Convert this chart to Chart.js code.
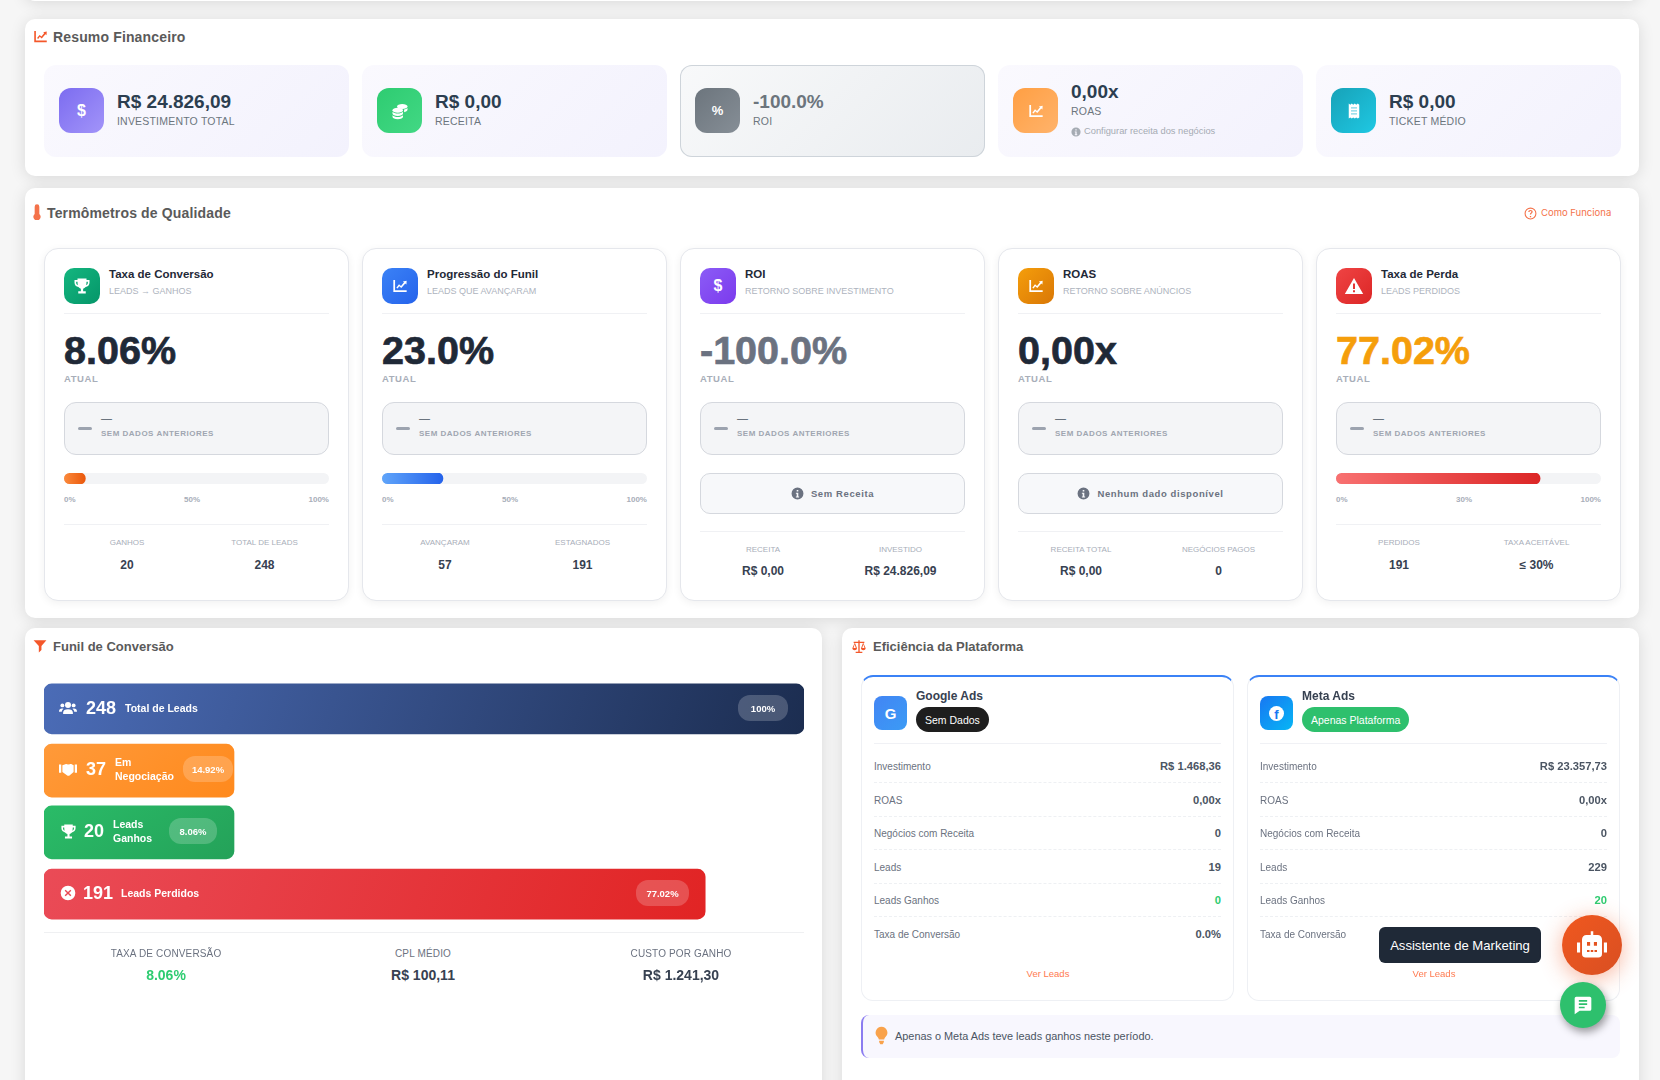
<!DOCTYPE html>
<html lang="pt-BR">
<head>
<meta charset="utf-8">
<title>Dashboard de Marketing</title>
<script src="https://cdn.jsdelivr.net/npm/chart.js@4"></script>
<style>
* { box-sizing: border-box; }
html, body { margin: 0; padding: 0; }
body { width: 1660px; height: 1080px; overflow: hidden; position: relative; background: #f6f6f6; font-family: "Liberation Sans", Arial, sans-serif; }
.section { position: absolute; background: #fff; border-radius: 10px; box-shadow: 0 2px 16px rgba(0,0,0,.12); }
.t { position: absolute; line-height: 1; white-space: nowrap; transform: translateY(-50%); }
.tc { transform: translate(-50%, -50%); }
.title { font-size: 14px; font-weight: 700; color: #5a5a5a; letter-spacing: .15px; }
.title.small { font-size: 13px; letter-spacing: 0; }
svg { display: block; fill: currentColor; }
.ico { position: absolute; display: flex; align-items: center; justify-content: center; color: #fff; }
.stat { position: absolute; top: 65px; width: 305px; height: 92px; border-radius: 12px; background: linear-gradient(135deg, #faf9fe, #f3f2fd); }
.stat.gray { background: linear-gradient(135deg, #f8f9fa, #e9ecef); box-shadow: inset 0 0 0 1px #ced4da; }
.stat .ico { left: 15px; top: 23px; width: 45px; height: 45px; border-radius: 12px; }
.stat .val { left: 73px; font-size: 19px; font-weight: 700; color: #2c3e50; }
.stat .lab { left: 73px; font-size: 10.5px; color: #6c757d; letter-spacing: .2px; }
.card { position: absolute; top: 248px; width: 305px; height: 353px; background: #fff; border: 1px solid #e5e7ec; border-radius: 14px; box-shadow: 0 2px 8px rgba(0,0,0,.06); }
.card .ico { left: 19px; top: 19px; width: 36px; height: 36px; border-radius: 10px; }
.card .name { left: 64px; top: 26px; font-size: 11.5px; font-weight: 600; color: #1f2937; }
.card .sub { left: 64px; top: 42px; font-size: 9px; color: #aeb4be; }
.card .rule { position: absolute; left: 19px; width: 265px; height: 1px; background: #f0f1f4; }
.card .big { left: 19px; top: 102px; font-size: 39.5px; font-weight: 700; -webkit-text-stroke: .7px currentColor; }
.card .now { left: 19px; top: 130px; font-size: 9.5px; font-weight: 700; color: #a8aeb9; letter-spacing: .55px; }
.trend { position: absolute; left: 19px; top: 153px; width: 265px; height: 53px; border: 1px solid #d5d8de; border-radius: 12px; background: #f4f5f7; }
.trend i { position: absolute; left: 13px; top: 24px; width: 14px; height: 3px; border-radius: 2px; background: #9ca3af; }
.trend b { left: 36px; top: 15px; font-size: 11px; font-weight: 400; color: #4b5563; }
.trend span { left: 36px; top: 31px; font-size: 8px; font-weight: 700; color: #a0a6b1; letter-spacing: .5px; }
.gauge { position: absolute; left: 19px; top: 224px; width: 265px; height: 11px; border-radius: 6px; background: #f3f4f6; overflow: hidden; }
.ticks { position: absolute; left: 19px; top: 246px; width: 265px; display: flex; justify-content: space-between; font-size: 8px; font-weight: 700; color: #a8aeb9; line-height: 10px; }
.infobox { position: absolute; left: 19px; top: 224px; width: 265px; height: 41px; border: 1px solid #d5d8de; border-radius: 10px; background: #f7f8fa; display: flex; align-items: center; justify-content: center; gap: 7px; font-size: 9.5px; font-weight: 700; color: #6b7280; letter-spacing: .6px; }
.slab { font-size: 8px; color: #a8aeb9; }
.sval { font-size: 12px; font-weight: 700; color: #374151; }
#funnelWrap { position: absolute; left: 44px; top: 678px; width: 760px; height: 247px; }
.fn { color: #fff; font-weight: 700; }
.fnum { font-size: 18px; }
.flab { font-size: 10.5px; line-height: 14px; white-space: normal; }
.fbadge { position: absolute; height: 26px; border-radius: 12px; background: rgba(255,255,255,.2); color: #fff; font-size: 9.5px; font-weight: 700; display: flex; align-items: center; justify-content: center; }
.plat { position: absolute; top: 675px; width: 373px; height: 326px; background: #fff; border: 1px solid #eef0f4; border-top: 2px solid #3b82f6; border-radius: 12px; }
.plat .ico { left: 12px; top: 19px; width: 33px; height: 34px; border-radius: 8px; }
.plat .pname { left: 54px; top: 19px; font-size: 12px; font-weight: 700; color: #374151; }
.plat .badge { position: absolute; left: 54px; top: 30px; height: 25px; border-radius: 13px; color: #fff; font-size: 10.5px; display: flex; align-items: center; padding: 0 9px; }
.plat .rule { position: absolute; left: 12px; width: 347px; height: 0; border-top: 1px solid #f0f1f5; }
.plat .rule.d { border-top: 1px dashed #eef0f3; }
.plab { left: 12px; font-size: 10px; color: #6b7280; }
.pval { right: 12px; font-size: 11.2px; font-weight: 700; color: #4b5563; }
.ver { font-size: 9.5px; color: #ff7a50; }
#insight { position: absolute; left: 861px; top: 1015px; width: 759px; height: 43px; background: #f8f7fe; border-left: 2px solid #8b7cf0; border-radius: 8px; }
#tooltip { position: absolute; left: 1379px; top: 927px; width: 162px; height: 36px; background: #1f2937; border-radius: 6px; color: #fff; font-size: 13.1px; display: flex; align-items: center; justify-content: center; }
#robot { position: absolute; left: 1562px; top: 915px; width: 60px; height: 60px; border-radius: 50%; background: linear-gradient(135deg, #f0581f, #d94f22); box-shadow: 0 4px 22px rgba(240,90,40,.45); color: #fff; display: flex; align-items: center; justify-content: center; }
#chat { position: absolute; left: 1560px; top: 982px; width: 46px; height: 46px; border-radius: 50%; background: #2ec06d; box-shadow: 2px 4px 8px rgba(0,0,0,.4); color: #fff; display: flex; align-items: center; justify-content: center; }
</style>
</head>
<body>
<div class="section" style="left:25px;top:-40px;width:1614px;height:41px"></div>
<div class="section" style="left:25px;top:19px;width:1614px;height:157px"></div>
<div class="section" style="left:25px;top:188px;width:1614px;height:430px"></div>
<div class="section" style="left:25px;top:628px;width:797px;height:480px"></div>
<div class="section" style="left:842px;top:628px;width:797px;height:480px"></div>
<div id="root"></div>

<script>
// funil
const funnelLabels = ['Total de Leads', 'Em Negociação', 'Leads Ganhos', 'Leads Perdidos'];
const funnelCounts = [248, 37, 20, 191];
const funnelShares = ['100%', '14.92%', '8.06%', '77.02%'];
// largura exibida de cada barra (% da faixa)
const funnelWidths = [100, 25, 25, 87];

// termometros
const gaugeValues = [8.06, 23.0, 77.02];
const gaugeTicks = [['0%', '50%', '100%'], ['0%', '50%', '100%'], ['0%', '30%', '100%']];

const statValues = ['R$ 24.826,09', 'R$ 0,00', '-100.0%', '0,00x', 'R$ 0,00'];
const statLabels = ['INVESTIMENTO TOTAL', 'RECEITA', 'ROI', 'ROAS', 'TICKET MÉDIO'];

const cardNames = ['Taxa de Conversão', 'Progressão do Funil', 'ROI', 'ROAS', 'Taxa de Perda'];
const cardSubs = ['LEADS → GANHOS', 'LEADS QUE AVANÇARAM', 'RETORNO SOBRE INVESTIMENTO', 'RETORNO SOBRE ANÚNCIOS', 'LEADS PERDIDOS'];
const cardValues = ['8.06%', '23.0%', '-100.0%', '0,00x', '77.02%'];
const cardStatLabels = [['GANHOS', 'TOTAL DE LEADS'], ['AVANÇARAM', 'ESTAGNADOS'], ['RECEITA', 'INVESTIDO'], ['RECEITA TOTAL', 'NEGÓCIOS PAGOS'], ['PERDIDOS', 'TAXA ACEITÁVEL']];
const cardStatValues = [['20', '248'], ['57', '191'], ['R$ 0,00', 'R$ 24.826,09'], ['R$ 0,00', '0'], ['191', '≤ 30%']];

const rowLabels = ['Investimento', 'ROAS', 'Negócios com Receita', 'Leads', 'Leads Ganhos', 'Taxa de Conversão'];
const googleValues = ['R$ 1.468,36', '0,00x', '0', '19', '0', '0.0%'];
const metaValues = ['R$ 23.357,73', '0,00x', '0', '229', '20', '8.7%'];

const funnelSummaryLabels = ['TAXA DE CONVERSÃO', 'CPL MÉDIO', 'CUSTO POR GANHO'];
const funnelSummaryValues = ['8.06%', 'R$ 100,11', 'R$ 1.241,30'];

// icones
const paths = {
  chart: '<path d="M2 3h2.6v15.4H22V21H2z"/><path d="M6.5 14.5l4-5 3 2.6L18 6.5l-1.8-1.4L22 4l-.4 5.8-1.7-1.5-6 6.8-3-2.6-2.6 3.3z"/>',
  coins: '<ellipse cx="15" cy="6" rx="7" ry="3.4"/><ellipse cx="9" cy="11" rx="7" ry="3.4"/><path d="M2 13v2.4c0 1.9 3.1 3.4 7 3.4s7-1.5 7-3.4V13c-1.4 1.5-4 2.4-7 2.4S3.400 14.500 2 13zM2 17.500v2c0 1.900 3.100 3.400 7 3.400s7-1.500 7-3.400v-2c-1.400 1.500-4 2.400-7 2.400s-5.600-.9-7-2.400zM17.500 10v3.500c2.600-.5 4.500-1.700 4.500-3.200V8c-1 .9-2.600 1.600-4.500 2z"/>',
  receipt: '<path d="M5 2l2 1.500L9 2l2 1.500L13 2l2 1.500L17 2l2 1.500V20.500L17 22l-2-1.500L13 22l-2-1.500L9 22l-2-1.500L5 22z"/><path fill="#7fd6e6" d="M8 7h8v1.600H8zM8 11h8v1.600H8zM8 15h8v1.600H8z"/>',
  trophy: '<path d="M6 2h12v2h4v3.500c0 3-2.300 5.300-5.200 5.800-.9 1.200-2 1.900-3.300 2.200V19H17v3H7v-3h3.500v-3.500c-1.300-.3-2.400-1-3.300-2.200C4.300 12.800 2 10.500 2 7.500V4h4zM4.200 6.200v1.300c0 1.500.9 2.700 2.300 3.300-.3-1.300-.5-2.900-.5-4.600zm15.600 0H18c0 1.700-.2 3.300-.5 4.600 1.400-.6 2.300-1.800 2.300-3.300z"/>',
  warn: '<path fill-rule="evenodd" d="M12 2.500L23 21.500H1zM10.800 9v6.500h2.400V9zm0 8v2.400h2.400V17z"/>',
  info: '<path fill-rule="evenodd" d="M12 1a11 11 0 110 22 11 11 0 010-22zm-1.500 4.500v3h3v-3zM9 10.500v2h1.500v5H9v2h6v-2h-1.500v-7z"/>',
  users: '<circle cx="12" cy="8" r="4"/><circle cx="4.500" cy="8.500" r="2.600"/><circle cx="19.500" cy="8.500" r="2.600"/><path d="M5.500 20v-2c0-3 2.500-4.500 6.500-4.500s6.500 1.500 6.500 4.500v2zM0 16.500c0-2.500 1.500-4 4-4 .8 0 1.400.1 2 .4-1.300 1-2.200 2.500-2.300 4.100H0zM24 16.500c0-2.500-1.500-4-4-4-.8 0-1.400.1-2 .4 1.300 1 2.200 2.500 2.300 4.100H24z"/>',
  hands: '<path d="M0 6h3v11H0zM21 6h3v11h-3zM4.500 7l4-1.500c1.200-.4 2.300-.2 3.500.5l2.500-.5c1-.2 2 0 3 .5l2 1V16l-5.500 4.500c-1 .8-2.200.8-3 .2L4.500 16z"/>',
  cross: '<path fill-rule="evenodd" d="M12 1a11 11 0 110 22 11 11 0 010-22zM8.500 7L7 8.500l3.500 3.500L7 15.500 8.500 17l3.500-3.500 3.500 3.500 1.500-1.500-3.500-3.500L17 8.500 15.500 7 12 10.500z"/>',
  filter: '<path d="M1 2h22l-8.500 10v7L10 23V12z"/>',
  scale: '<path d="M11 2h2v2h7v2h-1.500L22 14c0 2-1.700 3-3.500 3S15 16 15 14l3-8h-5v13h4v2H7v-2h4V6H6l3 8c0 2-1.700 3-3.500 3S2 16 2 14l3.500-8H4V4h7zM5.500 8L3.800 13.500h3.400zM18.500 8l-1.700 5.500h3.400z"/>',
  thermo: '<path d="M8.500 4a3.500 3.500 0 017 0v11a5.500 5.500 0 11-7 0z"/>',
  question: '<path fill-rule="evenodd" d="M12 1a11 11 0 110 22 11 11 0 010-22zm0 2a9 9 0 100 18 9 9 0 000-18zm-1.200 13.500h2.400V19h-2.400zM12 5.500c2.400 0 4 1.400 4 3.400 0 1.600-1 2.400-2 3.100-.6.500-.9.800-.9 1.800h-2.300c0-1.800.7-2.600 1.800-3.400.8-.6 1.100-.9 1.100-1.500 0-.8-.7-1.300-1.700-1.300s-1.800.6-1.900 1.600H7.800C8 7 9.600 5.500 12 5.500z"/>',
  robot: '<path fill-rule="evenodd" d="M11 1h2v3h3.500A3.500 3.500 0 0120 7.500V19a3 3 0 01-3 3H7a3 3 0 01-3-3V7.500A3.500 3.500 0 017.500 4H11zM8 9.500v3h2.500v-3zm5.500 0v3H16v-3zM8 16v1.500h2V16zm3 0v1.500h2V16zm3 0v1.500h2V16z"/><path d="M0 10h2.500v8H0zM21.500 10H24v8h-2.500z"/>',
  chat: '<path fill-rule="evenodd" d="M4 2h16a2 2 0 012 2v13a2 2 0 01-2 2H8l-6 4V4a2 2 0 012-2zm3 4v2h10V6zm0 4v2h10v-2zm0 4v2h7v-2z"/>',
  bulb: '<path d="M12 1a7.500 7.500 0 00-5 13c1 1 1.500 2 1.600 3h6.800c.1-1 .6-2 1.600-3a7.500 7.500 0 00-5-13zM9 18.500h6V20c0 .4-.2.800-.5 1L13.500 23h-3l-1-2c-.3-.2-.5-.6-.5-1z"/>'
};
function icon(name, size, color) {
  const style = color ? ' style="color:' + color + '"' : '';
  return '<svg width="' + size + '" height="' + size + '" viewBox="0 0 24 24"' + style + '>' + paths[name] + '</svg>';
}
const glyph = (ch, size) => '<b style="font-size:' + size + 'px;line-height:1">' + ch + '</b>';

let html = '';

// secao 1
html += '<div class="ico" style="left:33px;top:29px;width:15px;height:15px">' + icon('chart', 15, '#f4572a') + '</div>';
html += '<div class="t title" style="left:53px;top:37px">Resumo Financeiro</div>';
const statLeft = [44, 362, 680, 998, 1316];
const statIcons = [glyph('$', 16), icon('coins', 18), glyph('%', 13), icon('chart', 16), icon('receipt', 18)];
const statFills = ['linear-gradient(135deg,#7c6cf0,#a294f9)', 'linear-gradient(135deg,#2ecc71,#42d884)', 'linear-gradient(135deg,#6c757d,#868e96)', 'linear-gradient(135deg,#ff9f43,#ffb36b)', 'linear-gradient(135deg,#17a2b8,#1fc8e3)'];
statValues.forEach((v, i) => {
  const roas = i === 3;
  html += '<div class="stat' + (i === 2 ? ' gray' : '') + '" style="left:' + statLeft[i] + 'px">' +
    '<div class="ico" style="background:' + statFills[i] + '">' + statIcons[i] + '</div>' +
    '<div class="t val" style="top:' + (roas ? 26 : 36) + 'px' + (i === 2 ? ';color:#6c757d' : '') + '">' + v + '</div>' +
    '<div class="t lab" style="top:' + (roas ? 46 : 56) + 'px">' + statLabels[i] + '</div>' +
    (roas ? '<div class="ico" style="left:73px;top:62px;width:10px;height:10px;border-radius:0">' + icon('info', 10, '#a5abb3') + '</div><div class="t" style="left:86px;top:67px;font-size:9.300px;color:#a5abb3">Configurar receita dos negócios</div>' : '') +
    '</div>';
});

// secao 2
html += '<div class="ico" style="left:29px;top:204px;width:16px;height:16px">' + icon('thermo', 16, '#f4724a') + '</div>';
html += '<div class="t title" style="left:47px;top:213px">Termômetros de Qualidade</div>';
html += '<div class="ico" style="left:1524px;top:207px;width:13px;height:13px">' + icon('question', 13, '#f4724a') + '</div>';
html += '<div class="t" style="left:1541px;top:213px;font-size:9.500px;color:#f4724a;font-family:Inter,sans-serif">Como Funciona</div>';
const cardLeft = [44, 362, 680, 998, 1316];
const cardIcons = [icon('trophy', 18), icon('chart', 16), glyph('$', 16), icon('chart', 16), icon('warn', 20)];
const cardFills = ['linear-gradient(135deg,#14b67f,#059669)', 'linear-gradient(135deg,#3b82f6,#2563eb)', 'linear-gradient(135deg,#8b5cf6,#7c3aed)', 'linear-gradient(135deg,#f59e0b,#d97706)', 'linear-gradient(135deg,#ef4444,#dc2626)'];
const cardColors = ['#1f2937', '#1f2937', '#6b7280', '#1f2937', '#f59e0b'];
const gaugeOf = [0, 1, -1, -1, 2];
const infoText = { 2: 'Sem Receita', 3: 'Nenhum dado disponível' };
cardNames.forEach((n, i) => {
  const g = gaugeOf[i];
  const ruleTop = g >= 0 ? 275 : 282;
  const labTop = g >= 0 ? 294 : 301;
  const valTop = g >= 0 ? 316 : 322;
  html += '<div class="card" style="left:' + cardLeft[i] + 'px">' +
    '<div class="ico" style="background:' + cardFills[i] + '">' + cardIcons[i] + '</div>' +
    '<div class="t name">' + n + '</div><div class="t sub">' + cardSubs[i] + '</div>' +
    '<div class="rule" style="top:64px"></div>' +
    '<div class="t big" style="color:' + cardColors[i] + '">' + cardValues[i] + '</div>' +
    '<div class="t now">ATUAL</div>' +
    '<div class="trend"><i></i><b class="t">—</b><span class="t">SEM DADOS ANTERIORES</span></div>';
  if (g >= 0) {
    html += '<div class="gauge"><canvas id="gauge' + g + '"></canvas></div><div class="ticks">' + gaugeTicks[g].map(t => '<span>' + t + '</span>').join('') + '</div>';
  } else {
    html += '<div class="infobox">' + icon('info', 13, '#6b7280') + '<span>' + infoText[i] + '</span></div>';
  }
  html += '<div class="rule" style="top:' + ruleTop + 'px"></div>';
  [82, 219.500].forEach((x, k) => {
    html += '<div class="t tc slab" style="left:' + x + 'px;top:' + labTop + 'px">' + cardStatLabels[i][k] + '</div>' +
      '<div class="t tc sval" style="left:' + x + 'px;top:' + valTop + 'px">' + cardStatValues[i][k] + '</div>';
  });
  html += '</div>';
});

// funil
html += '<div class="ico" style="left:33px;top:639px;width:14px;height:14px">' + icon('filter', 14, '#f4572a') + '</div>';
html += '<div class="t title small" style="left:53px;top:646px">Funil de Conversão</div>';
html += '<div id="funnelWrap"><canvas id="funnelChart"></canvas></div>';
const fIcons = ['users', 'hands', 'trophy', 'cross'];
const fIconSize = [18, 18, 17, 16];
const fRows = [708, 769, 831, 893];
const fNumX = [86, 86, 84, 83];
const fLabX = [125, 115, 113, 121];
const fBadge = [[738, 50], [183, 50], [169, 48], [636, 53]];
funnelLabels.forEach((l, i) => {
  html += '<div class="ico" style="left:59px;top:' + (fRows[i] - 9) + 'px;width:18px;height:18px">' + icon(fIcons[i], fIconSize[i]) + '</div>';
  html += '<div class="t fn fnum" style="left:' + fNumX[i] + 'px;top:' + fRows[i] + 'px">' + funnelCounts[i] + '</div>';
  const words = (i === 1 || i === 2) ? l.replace(' ', '<br>') : l;
  html += '<div class="t fn flab" style="left:' + fLabX[i] + 'px;top:' + fRows[i] + 'px">' + words + '</div>';
  html += '<div class="fbadge" style="left:' + fBadge[i][0] + 'px;top:' + (fRows[i] - 13) + 'px;width:' + fBadge[i][1] + 'px">' + funnelShares[i] + '</div>';
});
html += '<div style="position:absolute;left:44px;top:932px;width:760px;height:1px;background:#eff0f2"></div>';
[166, 423, 681].forEach((x, i) => {
  html += '<div class="t tc" style="left:' + x + 'px;top:954px;font-size:10px;color:#6b7280;letter-spacing:.15px">' + funnelSummaryLabels[i] + '</div>';
  html += '<div class="t tc" style="left:' + x + 'px;top:975px;font-size:14px;font-weight:700;color:' + (i === 0 ? '#2ecc71' : '#374151') + '">' + funnelSummaryValues[i] + '</div>';
});

// plataformas
html += '<div class="ico" style="left:851px;top:639px;width:16px;height:15px">' + icon('scale', 16, '#f4572a') + '</div>';
html += '<div class="t title small" style="left:873px;top:646px">Eficiência da Plataforma</div>';
function platform(left, name, logo, fill, badge, badgeFill, values) {
  let p = '<div class="plat" style="left:' + left + 'px"><div class="ico" style="background:' + fill + '">' + logo + '</div>' +
    '<div class="t pname">' + name + '</div><div class="badge" style="background:' + badgeFill + '">' + badge + '</div>' +
    '<div class="rule" style="top:66px"></div>';
  rowLabels.forEach((r, i) => {
    const y = 90 + i * 33.6;
    const color = i === 4 ? ';color:#2ecc71' : '';
    p += '<div class="t plab" style="top:' + y + 'px">' + r + '</div><div class="t pval" style="top:' + y + 'px' + color + '">' + values[i] + '</div>';
    if (i < 5) p += '<div class="rule d" style="top:' + (y + 15) + 'px"></div>';
  });
  return p + '<div class="t tc ver" style="left:186px;top:297px">Ver Leads</div></div>';
}
html += platform(861, 'Google Ads', '<b style="font-size:15px">G</b>', 'linear-gradient(135deg,#4285f4,#3b9bf5)', 'Sem Dados', '#1e1e1e', googleValues);
html += platform(1247, 'Meta Ads', '<b style="width:15px;height:15px;border-radius:50%;background:#fff;color:#1877f2;font-size:13px;line-height:17px;text-align:center">f</b>', 'linear-gradient(135deg,#1877f2,#06b6f5)', 'Apenas Plataforma', '#2ec06d', metaValues);
html += '<div id="insight"><div class="ico" style="left:9px;top:11px;width:19px;height:19px">' + icon('bulb', 19, '#f9a24b') + '</div><div class="t" style="left:32px;top:21px;font-size:10.900px;color:#4b5563">Apenas o Meta Ads teve leads ganhos neste período.</div></div>';

// flutuantes
html += '<div id="tooltip">Assistente de Marketing</div><div id="robot">' + icon('robot', 30) + '</div><div id="chat">' + icon('chat', 20) + '</div>';

document.getElementById('root').innerHTML = html;

function hideScales() {
  return {
    x: { display: false, min: 0, max: 100, stacked: true },
    y: { display: false, stacked: true }
  };
}

// barras do funil
const funnelColors = [['#4b6cb7', '#182848'], ['#ff9f43', '#ff7f0a'], ['#2ecc71', '#229954'], ['#eb4f5c', '#e12424']];
const funnelThick = [50, 53, 53, 50];
new Chart(document.getElementById('funnelChart'), {
  type: 'bar',
  data: {
    labels: funnelLabels,
    datasets: funnelWidths.map((w, i) => ({
      label: funnelLabels[i],
      data: funnelWidths.map((v, j) => (j === i ? v : null)),
      barThickness: funnelThick[i],
      borderRadius: 8,
      borderSkipped: false,
      backgroundColor: ctx => {
        const area = ctx.chart.chartArea;
        if (!area) return funnelColors[i][0];
        const right = ctx.chart.scales.x.getPixelForValue(w);
        const g = ctx.chart.ctx.createLinearGradient(area.left, area.top, right, area.bottom);
        g.addColorStop(0, funnelColors[i][0]);
        g.addColorStop(1, funnelColors[i][1]);
        return g;
      }
    }))
  },
  options: {
    indexAxis: 'y',
    responsive: true,
    maintainAspectRatio: false,
    animation: false,
    scales: hideScales(),
    plugins: { legend: { display: false }, tooltip: { enabled: false } }
  }
});

// termometros
const gaugeColors = [['#fb8a3c', '#ea580c'], ['#60a5fa', '#2563eb'], ['#f87171', '#dc2626']];
gaugeValues.forEach((v, i) => {
  new Chart(document.getElementById('gauge' + i), {
    type: 'bar',
    data: {
      labels: [cardNames[gaugeOf.indexOf(i)]],
      datasets: [{
        data: [v],
        barThickness: 11,
        borderRadius: 6,
        borderSkipped: false,
        backgroundColor: ctx => {
          const area = ctx.chart.chartArea;
          if (!area) return gaugeColors[i][1];
          const g = ctx.chart.ctx.createLinearGradient(area.left, 0, ctx.chart.scales.x.getPixelForValue(v), 0);
          g.addColorStop(0, gaugeColors[i][0]);
          g.addColorStop(1, gaugeColors[i][1]);
          return g;
        }
      }]
    },
    options: {
      indexAxis: 'y',
      responsive: true,
      maintainAspectRatio: false,
      animation: false,
      scales: hideScales(),
      plugins: { legend: { display: false }, tooltip: { enabled: false } }
    }
  });
});
</script>
</body>
</html>
